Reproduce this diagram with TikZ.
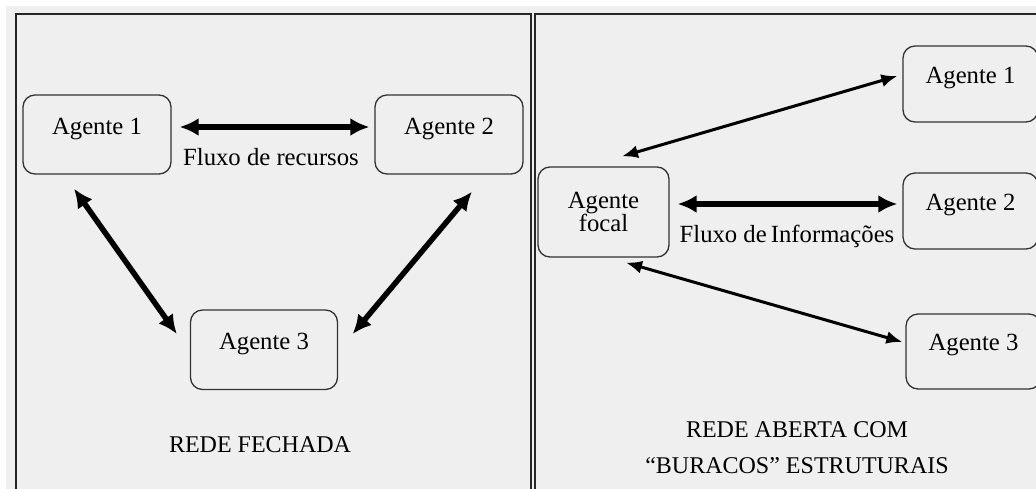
\documentclass[tikz,border=0pt]{standalone}
\usepackage{fontspec}
\setmainfont{Liberation Serif}
\usetikzlibrary{arrows.meta}
\definecolor{panelbg}{HTML}{EFEFEF}
\definecolor{boxline}{HTML}{333333}
\begin{document}
\begin{tikzpicture}[x=1pt,y=-1pt,
  agbox/.style={draw=boxline, line width=1.3pt, rounded corners=12pt,
    inner sep=0pt, font=\fontsize{24.7}{26}\selectfont, anchor=base},
  panel/.style={draw=black!85, line width=2pt},
  caption/.style={font=\fontsize{24}{36}\selectfont, anchor=base, inner sep=0pt},
  flowlabel/.style={font=\fontsize{24.7}{26}\selectfont, anchor=base, inner sep=0pt},
  bigarrow/.style={line width=5.5pt, {Latex[length=19pt,width=18pt]}-{Latex[length=19pt,width=18pt]}},
  thinarrow/.style={line width=3pt, {Latex[length=16pt,width=13pt]}-{Latex[length=16pt,width=13pt]}}]
\useasboundingbox (0,0) rectangle (1036,488);
\begin{scope}
\clip (0,0) rectangle (1036,488);
\fill[white] (0,0) rectangle (1036,488);
\fill[panelbg] (6,6) rectangle (1040,492);

% two framed panels
\draw[panel] (16,14) rectangle (531,500);
\draw[panel] (535,14) rectangle (1050,500);

% closed network
\node[agbox, minimum width=148pt, text height=39pt, text depth=40pt] (a1) at (97,134) {Agente 1};
\node[agbox, minimum width=148pt, text height=39pt, text depth=40pt] (a2) at (449,134) {Agente 2};
\node[agbox, minimum width=147pt, text height=39pt, text depth=40.5pt] (a3) at (264,349) {Agente 3};

\draw[bigarrow] ([shift={(8,-7.5)}]a1.east) -- ([shift={(-5,-7.5)}]a2.west);
\node[flowlabel] (fr) at (271,165) {Fluxo de recursos};
\draw[bigarrow] ([shift={(-23,14)}]a1.south) -- ([shift={(-13,-15.75)}]a3.west);
\draw[bigarrow] ([shift={(23,17)}]a2.south) -- ([shift={(14.5,-15.75)}]a3.east);

\node[caption] (t1) at (260,452) {REDE FECHADA};

% open network with structural holes
\node[draw=boxline, line width=1.3pt, rounded corners=12pt, inner sep=0pt,
  minimum width=131pt, minimum height=90pt, align=center,
  font=\fontsize{24.7}{23}\selectfont] (f) at (603.5,212) {\raisebox{-2pt}{Agente}\\\raisebox{-2pt}{focal}};
\node[agbox, minimum width=135pt, text height=37pt, text depth=39pt] (r1) at (970.5,83) {Agente 1};
\node[agbox, minimum width=135pt, text height=37pt, text depth=39pt] (r2) at (970.5,210) {Agente 2};
\node[agbox, minimum width=135pt, text height=36pt, text depth=39pt] (r3) at (973.5,350) {Agente 3};

\draw[thinarrow] ([shift={(18.5,-10)}]f.north) -- ([shift={(-5,-8)}]r1.west);
\draw[bigarrow] ([shift={(8,-8)}]f.east) -- ([shift={(-5,-7)}]r2.west);
\node[flowlabel] (fi) at (787,242) {Fluxo de\,Informações};
\draw[thinarrow] ([shift={(22.5,5)}]f.south) -- ([shift={(-3,-9.5)}]r3.west);

\node[caption] (t2) at (797,437) {REDE ABERTA COM};
\node[caption] (t3) at (797,473) {“BURACOS” ESTRUTURAIS};
\end{scope}
\end{tikzpicture}
\end{document}
